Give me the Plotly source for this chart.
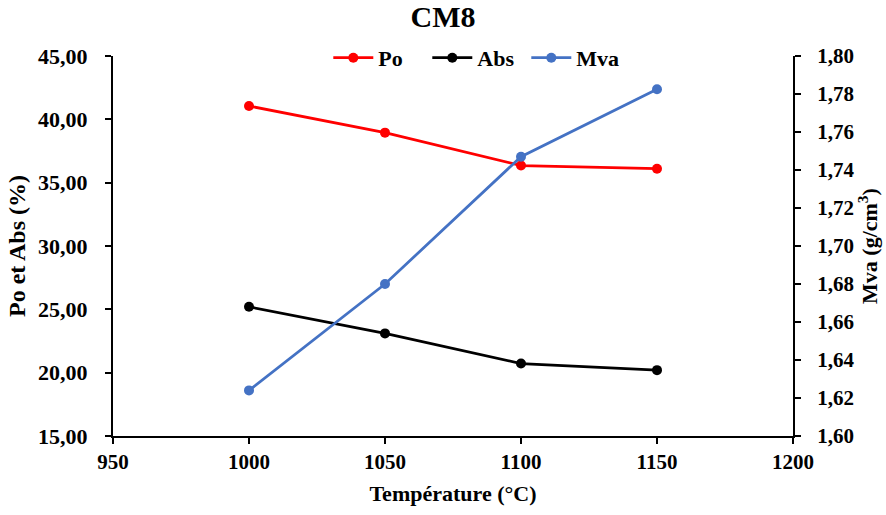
import plotly.graph_objects as go

temperature = [1000, 1050, 1100, 1150]
po = [41.05, 38.95, 36.35, 36.1]
abs_ = [25.2, 23.1, 20.72, 20.2]
mva = [1.624, 1.680, 1.747, 1.7825]

FONT = "Liberation Serif, Times New Roman, serif"

fig = go.Figure()
fig.add_trace(go.Scatter(x=temperature, y=po, name="Po", mode="lines+markers",
                         line=dict(color="#FF0000", width=2.75), marker=dict(size=10, color="#FF0000")))
fig.add_trace(go.Scatter(x=temperature, y=abs_, name="Abs", mode="lines+markers",
                         line=dict(color="#000000", width=2.75), marker=dict(size=10, color="#000000")))
fig.add_trace(go.Scatter(x=temperature, y=mva, name="Mva", mode="lines+markers", yaxis="y2",
                         line=dict(color="#4472C4", width=2.75), marker=dict(size=10, color="#4472C4")))

tickfont = dict(family=FONT, size=21, color="black", weight="bold")
ytickfont = dict(family=FONT, size=22, color="black", weight="bold")

fig.update_layout(
    width=886, height=515,
    margin=dict(l=113, r=93, t=56, b=79, autoexpand=False),
    paper_bgcolor="white", plot_bgcolor="white",
    separators=", ",
    title=dict(text="CM8", x=0.5, xanchor="center", y=0.968, yanchor="middle",
               font=dict(family=FONT, size=30, color="black", weight="bold")),
    showlegend=True,
    legend=dict(orientation="h", x=0.535, xanchor="center", y=0.995, yanchor="middle",
                font=dict(family=FONT, size=22, color="black", weight="bold"),
                bgcolor="rgba(0,0,0,0)", itemwidth=40, tracegroupgap=0,
                entrywidth=44, entrywidthmode="pixels"),
    xaxis=dict(range=[950, 1200], dtick=50, tick0=950, showgrid=False, zeroline=False,
               showline=True, linecolor="black", linewidth=2, ticks="outside", ticklen=6,
               tickcolor="black", tickwidth=2, tickfont=tickfont, ticklabelstandoff=0,
               automargin=False,
               title=dict(text="Température (°C)",
                          font=dict(family=FONT, size=22, color="black", weight="bold"), standoff=12)),
    yaxis=dict(range=[15, 45], dtick=5, tickformat=".2f", showgrid=False, zeroline=False,
               showline=True, linecolor="black", linewidth=2, ticks="outside", ticklen=6,
               tickcolor="black", tickwidth=2, tickfont=ytickfont, ticklabelstandoff=13,
               automargin=False,
               title=dict(text="Po et Abs (%)",
                          font=dict(family=FONT, size=24, color="black", weight="bold"), standoff=6)),
    yaxis2=dict(range=[1.60, 1.80], dtick=0.02, tickformat=".2f", overlaying="y", side="right",
                showgrid=False, zeroline=False, showline=True, linecolor="black", linewidth=2,
                ticks="outside", ticklen=6, tickcolor="black", tickwidth=2, tickfont=tickfont,
                ticklabelstandoff=12, automargin=False,
                title=dict(text="Mva (g/cm<sup>3</sup>)",
                           font=dict(family=FONT, size=22, color="black", weight="bold"), standoff=2)),
)

fig.write_html("out.html", config={"displayModeBar": False},
               post_script="document.body.style.margin='0';")
